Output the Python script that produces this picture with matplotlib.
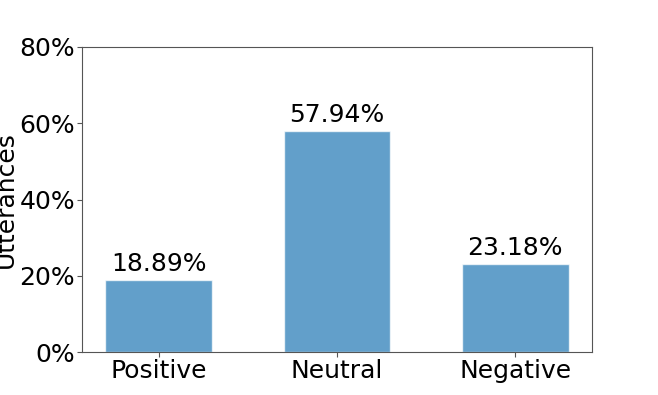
import matplotlib
matplotlib.use("Agg")
import matplotlib.pyplot as plt
from matplotlib.ticker import FuncFormatter

categories = ["Positive", "Neutral", "Negative"]
shares = [18.89, 57.94, 23.18]
y_ticks = [0, 20, 40, 60, 80]


def main():
    fig = plt.figure(figsize=(6.58, 3.95), dpi=100)
    ax = fig.add_axes([82 / 658, 1 - 352 / 395, 510 / 658, 305 / 395])

    bars = ax.bar(categories, shares, width=0.6, color="#1f77b4", alpha=0.7,
                  edgecolor="white", linewidth=1)
    for b, v in zip(bars, shares):
        ax.text(b.get_x() + b.get_width() / 2, v + 1.0, f"{v:.2f}%",
                ha="center", va="bottom", fontsize=18)

    ax.set_ylim(0, 80)
    ax.set_yticks(y_ticks)
    ax.yaxis.set_major_formatter(FuncFormatter(lambda v, _: f"{v:.0f}%"))
    ax.tick_params(labelsize=18, pad=1.5, color="#555555")
    ax.set_ylabel("Utterances", fontsize=18, labelpad=1)
    for s in ax.spines.values():
        s.set_color("#555555")

    fig.savefig("out.png", dpi=100)
    plt.close(fig)


if __name__ == '__main__':
    main()
